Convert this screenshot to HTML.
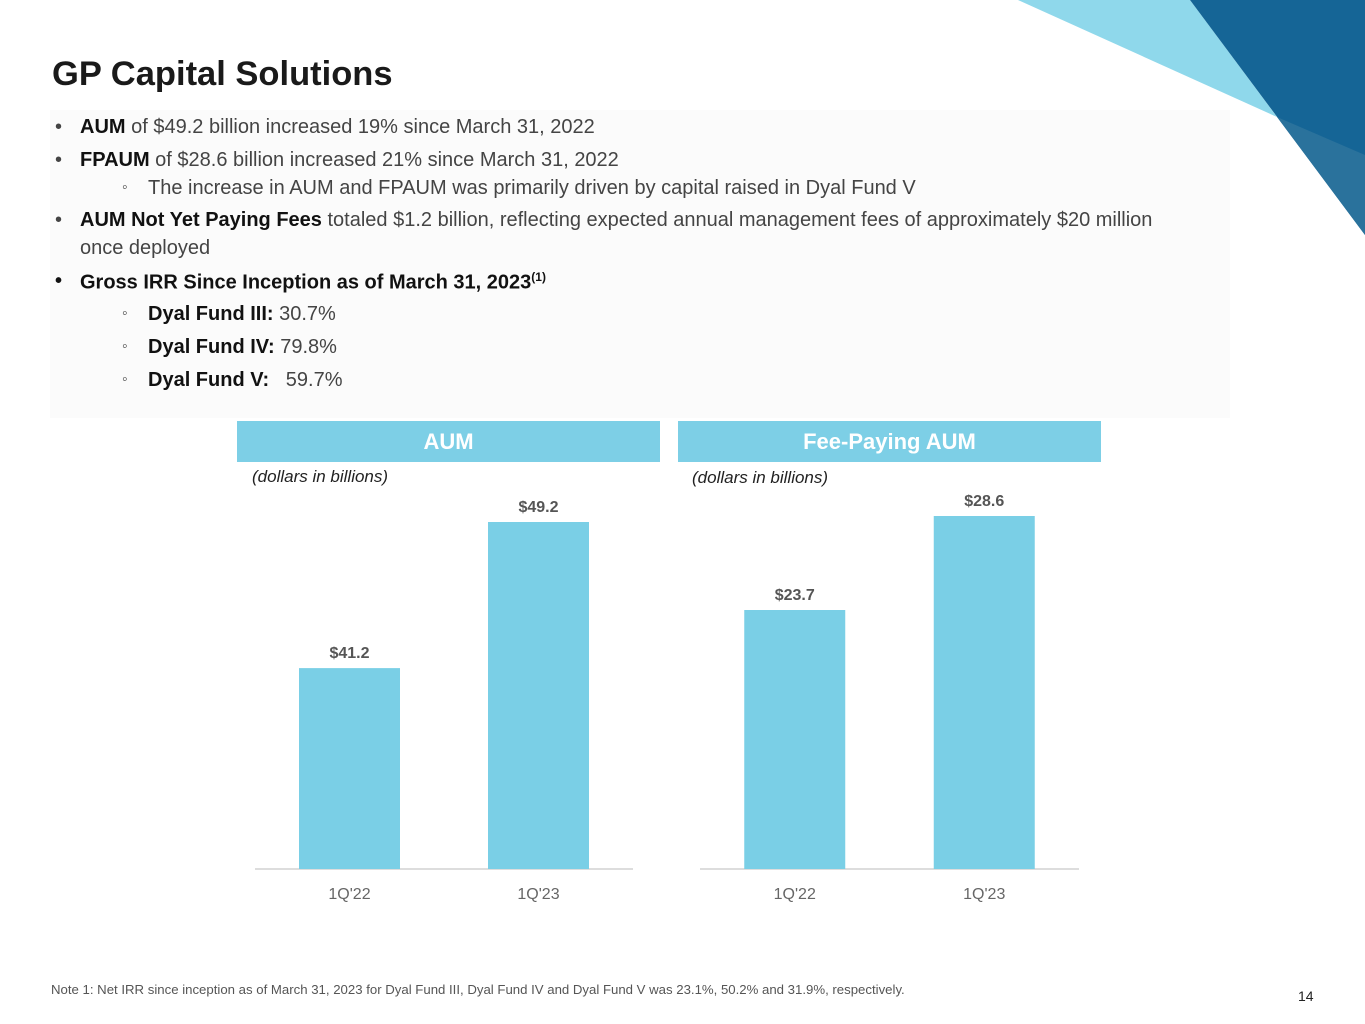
<!DOCTYPE html>
<html><head><meta charset="utf-8"><style>
body{margin:0;width:1365px;height:1024px;position:relative;background:#fff;font-family:"Liberation Sans",sans-serif;overflow:hidden}
.abs{position:absolute;white-space:nowrap}
.b{font-weight:bold;color:#111}
.t{color:#444;font-size:20px}
.hdr{position:absolute;height:41px;background:#7dcfe6;color:#fff;font-weight:bold;font-size:22px;text-align:center;line-height:41px}
.sb{position:absolute;left:0;font-size:16px;top:2px}
</style></head><body>
<svg class="abs" style="left:0;top:0" width="1365" height="300">
<polygon points="1018,0 1190,0 1277,117" fill="#8fd8eb"/>
<polygon points="1190,0 1365,0 1365,235" fill="#156596"/>
<polygon points="1277,117 1365,155 1365,235" fill="#2a729c"/>
</svg>
<div class="abs" style="left:52px;top:55px;font-size:34.5px;font-weight:bold;color:#1a1a1a">GP Capital Solutions</div>
<div class="abs" style="left:50px;top:110px;width:1180px;height:308px;background:#fbfbfb"></div>
<div class="abs t" style="left:55px;top:116px"><span style="position:absolute;left:0">•</span><span style="position:absolute;left:25px"><span class="b">AUM</span> of $49.2 billion increased 19% since March 31, 2022</span></div>
<div class="abs t" style="left:55px;top:149px"><span style="position:absolute;left:0">•</span><span style="position:absolute;left:25px"><span class="b">FPAUM</span> of $28.6 billion increased 21% since March 31, 2022</span></div>
<div class="abs t" style="left:122px;top:177px"><span class="sb">◦</span><span style="position:absolute;left:26px">The increase in AUM and FPAUM was primarily driven by capital raised in Dyal Fund V</span></div>
<div class="abs t" style="left:55px;top:209px"><span style="position:absolute;left:0">•</span><span style="position:absolute;left:25px"><span class="b">AUM Not Yet Paying Fees</span> totaled $1.2 billion, reflecting expected annual management fees of approximately $20 million</span></div>
<div class="abs t" style="left:80px;top:237px">once deployed</div>
<div class="abs t" style="left:55px;top:270px"><span style="position:absolute;left:0" class="b">•</span><span style="position:absolute;left:25px" class="b">Gross IRR Since Inception as of March 31, 2023<sup style="font-size:12px">(1)</sup></span></div>
<div class="abs t" style="left:122px;top:303px"><span class="sb">◦</span><span style="position:absolute;left:26px"><span class="b">Dyal Fund III:</span> 30.7%</span></div>
<div class="abs t" style="left:122px;top:336px"><span class="sb">◦</span><span style="position:absolute;left:26px"><span class="b">Dyal Fund IV:</span> 79.8%</span></div>
<div class="abs t" style="left:122px;top:369px"><span class="sb">◦</span><span style="position:absolute;left:26px"><span class="b">Dyal Fund V:</span>&nbsp;&nbsp; 59.7%</span></div>

<div class="hdr" style="left:237px;top:421px;width:423px">AUM</div>
<div class="hdr" style="left:678px;top:421px;width:423px">Fee-Paying AUM</div>
<div class="abs" style="left:252px;top:467px;font-size:17px;font-style:italic;color:#222">(dollars in billions)</div>
<div class="abs" style="left:692px;top:468px;font-size:17px;font-style:italic;color:#222">(dollars in billions)</div>

<svg class="abs" style="left:0;top:0" width="1365" height="1024" id="charts"></svg>

<div class="abs" style="left:51px;top:982px;font-size:13.2px;color:#555">Note 1: Net IRR since inception as of March 31, 2023 for Dyal Fund III, Dyal Fund IV and Dyal Fund V was 23.1%, 50.2% and 31.9%, respectively.</div>
<div class="abs" style="left:1298px;top:988px;font-size:14px;color:#222">14</div>
<script>
const categories = ["1Q'22", "1Q'23"];
const aumValues = [41.2, 49.2];
const fpaumValues = [23.7, 28.6];
const aumLabels = ["$41.2", "$49.2"];
const fpaumLabels = ["$23.7", "$28.6"];
const NS = "http://www.w3.org/2000/svg";
const svg = document.getElementById('charts');
function mk(tag, attrs){const e=document.createElementNS(NS,tag);for(const k in attrs)e.setAttribute(k,attrs[k]);svg.appendChild(e);return e;}
function drawChart(prefix, x0, x1, vals, labels, dmin, dmax, pxTop){
  const base = 869;
  const y = v => base - (v - dmin) / (dmax - dmin) * (base - pxTop);
  const bw = (x1 - x0) / categories.length;
  const line = mk('line',{x1:x0,x2:x1,y1:base,y2:base,stroke:'#bbb','stroke-width':1});
  
  
  categories.forEach((c,i)=>{
    const cx = x0 + bw*(i+0.5);
    const r = mk('rect',{x:cx-50.5,y:y(vals[i]),width:101,height:base-y(vals[i]),fill:'#7acfe6'});
    
    
    const l = mk('text',{x:cx,y:y(vals[i])-10,'text-anchor':'middle','font-size':16,'font-weight':'bold',fill:'#555','font-family':'Liberation Sans, sans-serif'});
    l.textContent = labels[i];
    
    
    const t = mk('text',{x:cx,y:899,'text-anchor':'middle','font-size':16,fill:'#666','font-family':'Liberation Sans, sans-serif'});
    t.textContent = c;
    
    
  });
}
drawChart('aum', 255, 633, aumValues, aumLabels, 30.2, 49.2, 522);
drawChart('fpaum', 700, 1079, fpaumValues, fpaumLabels, 10.2, 28.6, 516);
</script>
</body></html>
